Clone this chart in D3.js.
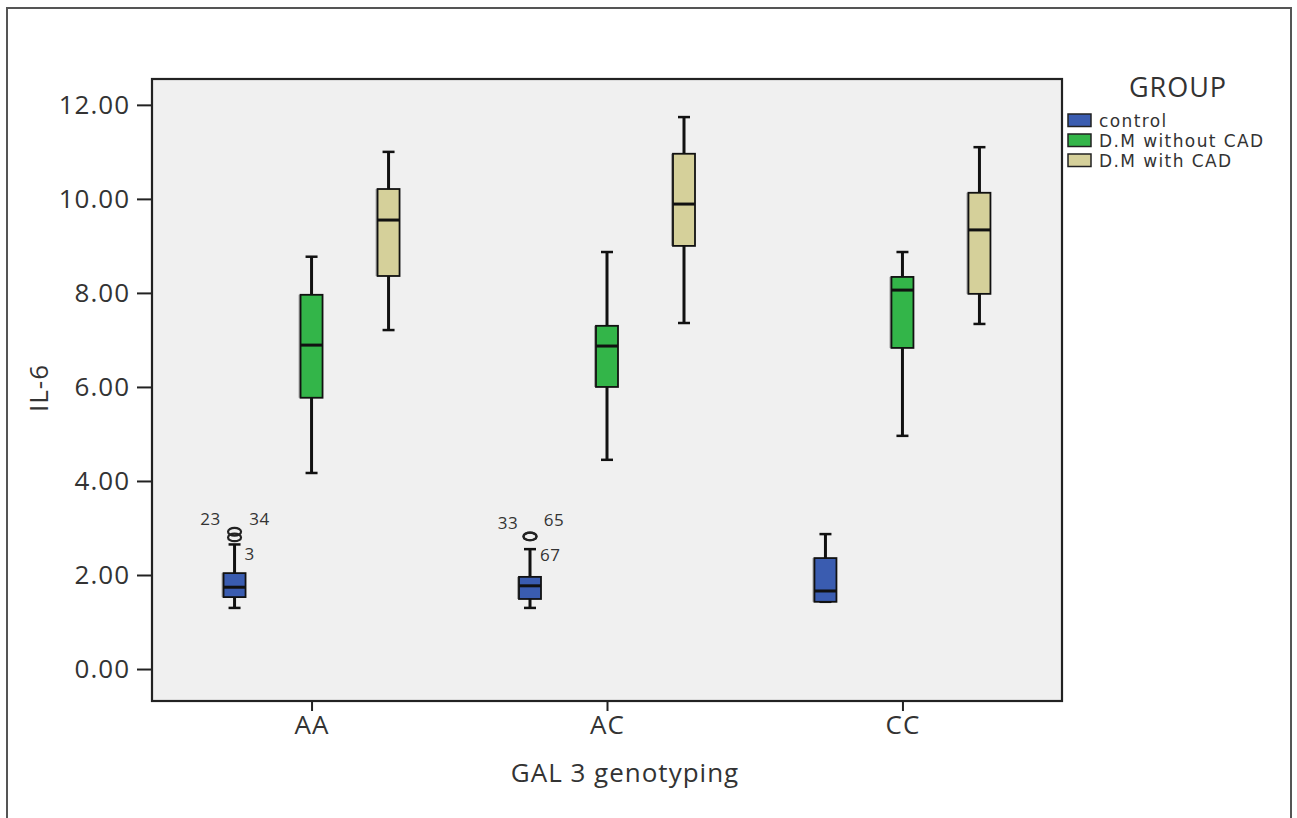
<!DOCTYPE html>
<html><head><meta charset="utf-8">
<script src="https://cdn.jsdelivr.net/npm/d3@7"></script>
<style>body{margin:0;background:#fff}svg{display:block}</style>
</head><body>
<script>
const genotypes = ["AA","AC","CC"];
const groups = ["control","D.M without CAD","D.M with CAD"];
const groupColors = ["#3a5cb0","#33b549","#d5d09a"];
// per genotype, per group: [lowWhisker, q1, median, q3, highWhisker]
const statsAA = [[1.30,1.53,1.74,2.04,2.65],[4.17,5.77,6.89,7.96,8.77],[7.21,8.36,9.55,10.21,11.0]];
const statsAC = [[1.30,1.49,1.77,1.96,2.55],[4.45,6.00,6.87,7.30,8.87],[7.36,9.00,9.89,10.96,11.74]];
const statsCC = [[1.43,1.43,1.66,2.36,2.87],[4.96,6.83,8.06,8.34,8.87],[7.34,7.98,9.34,10.13,11.1]];
const outliers = [
  {g:"AA", grp:0, v:2.92, label:"23", lx:-24, ly:-7},
  {g:"AA", grp:0, v:2.80, label:"34", lx:25, ly:-12},
  {g:"AC", grp:0, v:2.82, label:"33", lx:-22, ly:-7},
  {g:"AC", grp:0, v:2.82, label:"65", lx:24, ly:-10}
];
const whiskerLabels = [
  {g:"AA", grp:0, v:2.43, label:"3"},
  {g:"AC", grp:0, v:2.40, label:"67"}
];
const yTicks = [0,2,4,6,8,10,12];

const W=1297,H=818;
const svg=d3.select("body").append("svg").attr("width",W).attr("height",H);
const font="'Open Sans', Lato, sans-serif";
svg.append("rect").attr("x",7).attr("y",8).attr("width",1284).attr("height",830)
  .attr("fill","#fff").attr("stroke","#555").attr("stroke-width",2);

const L=152,R=1062,T=79,B=701;
const y=d3.scaleLinear().domain([-0.68,12.55]).range([B,T]);
const x=d3.scalePoint().domain(genotypes).range([L,R]).padding(0.54);
const off=d3.scalePoint().domain(groups).range([-77,77]);

svg.append("rect").attr("x",L).attr("y",T).attr("width",R-L).attr("height",B-T)
  .attr("fill","#f0f0f0").attr("stroke","none");

const stats={AA:statsAA,AC:statsAC,CC:statsCC};
const bw=22;
genotypes.forEach(g=>{
  groups.forEach((grp,i)=>{
    const [lo,q1,md,q3,hi]=stats[g][i];
    const cx=x(g)+off(grp);
    const gg=svg.append("g");
    gg.append("line").attr("x1",cx).attr("x2",cx).attr("y1",y(hi)).attr("y2",y(lo))
      .attr("stroke","#111").attr("stroke-width",3);
    [lo,hi].forEach(v=>gg.append("line").attr("x1",cx-6).attr("x2",cx+6).attr("y1",y(v)).attr("y2",y(v))
      .attr("stroke","#111").attr("stroke-width",2.5));
    gg.append("rect").attr("x",cx-bw/2-2).attr("y",y(q3)).attr("width",3).attr("height",y(q1)-y(q3))
      .attr("fill","#777").attr("opacity",0.6);
    gg.append("rect").attr("x",cx-bw/2).attr("y",y(q3)).attr("width",bw).attr("height",y(q1)-y(q3))
      .attr("fill",groupColors[i]).attr("stroke","#111").attr("stroke-width",1.8);
    gg.append("line").attr("x1",cx-bw/2).attr("x2",cx+bw/2).attr("y1",y(md)).attr("y2",y(md))
      .attr("stroke","#111").attr("stroke-width",3);
  });
});

outliers.forEach(o=>{
  const cx=x(o.g)+off(groups[o.grp]);
  svg.append("ellipse").attr("cx",cx).attr("cy",y(o.v)).attr("rx",6.5).attr("ry",3.8)
    .attr("fill","none").attr("stroke","#222").attr("stroke-width",2.2);
  svg.append("text").attr("x",cx+o.lx).attr("y",y(o.v)+o.ly).attr("text-anchor","middle")
    .attr("font-family",font).attr("font-size",17).attr("letter-spacing",0.5).attr("fill","#333").text(o.label);
});
whiskerLabels.forEach(o=>{
  const cx=x(o.g)+off(groups[o.grp]);
  svg.append("text").attr("x",cx+10).attr("y",y(o.v)+5).attr("text-anchor","start")
    .attr("font-family",font).attr("font-size",17).attr("letter-spacing",0.5).attr("fill","#333").text(o.label);
});

// axes
const ya=svg.append("g").attr("transform",`translate(${L},0)`)
  .call(d3.axisLeft(y).tickValues(yTicks).tickFormat(d3.format(".2f")).tickSize(15).tickPadding(7));
ya.select(".domain").remove();
ya.selectAll("line").attr("stroke","#222").attr("stroke-width",2);
ya.selectAll("text").attr("font-family",font).attr("font-size",26).attr("letter-spacing",1).attr("fill","#333");

const xa=svg.append("g").attr("transform",`translate(0,${B})`)
  .call(d3.axisBottom(x).tickSize(10).tickPadding(5));
xa.select(".domain").remove();
xa.selectAll("line").attr("stroke","#222").attr("stroke-width",2);
xa.selectAll("text").attr("font-family",font).attr("font-size",26).attr("letter-spacing",1).attr("fill","#333");

svg.append("rect").attr("x",L).attr("y",T).attr("width",R-L).attr("height",B-T)
  .attr("fill","none").attr("stroke","#222").attr("stroke-width",2.2);

svg.append("text").attr("transform",`translate(48,${(T+B)/2 - 2}) rotate(-90)`).attr("text-anchor","middle")
  .attr("font-family",font).attr("font-size",26).attr("letter-spacing",1).attr("fill","#333").text("IL-6");
svg.append("text").attr("x",625).attr("y",782).attr("text-anchor","middle")
  .attr("font-family",font).attr("font-size",26).attr("letter-spacing",1).attr("fill","#333").text("GAL 3 genotyping");

// legend
svg.append("text").attr("x",1178).attr("y",97).attr("text-anchor","middle")
  .attr("font-family",font).attr("font-size",27).attr("letter-spacing",1).attr("fill","#333").text("GROUP");
groups.forEach((grp,i)=>{
  const yy=114+i*20;
  svg.append("rect").attr("x",1068).attr("y",yy).attr("width",23).attr("height",12.5)
    .attr("fill",groupColors[i]).attr("stroke","#222").attr("stroke-width",1.5);
  svg.append("text").attr("x",1099).attr("y",yy+13).attr("font-family","'DejaVu Sans', sans-serif").attr("font-size",17)
    .attr("letter-spacing",1.4).attr("fill","#333").text(grp);
});
</script>
</body></html>
